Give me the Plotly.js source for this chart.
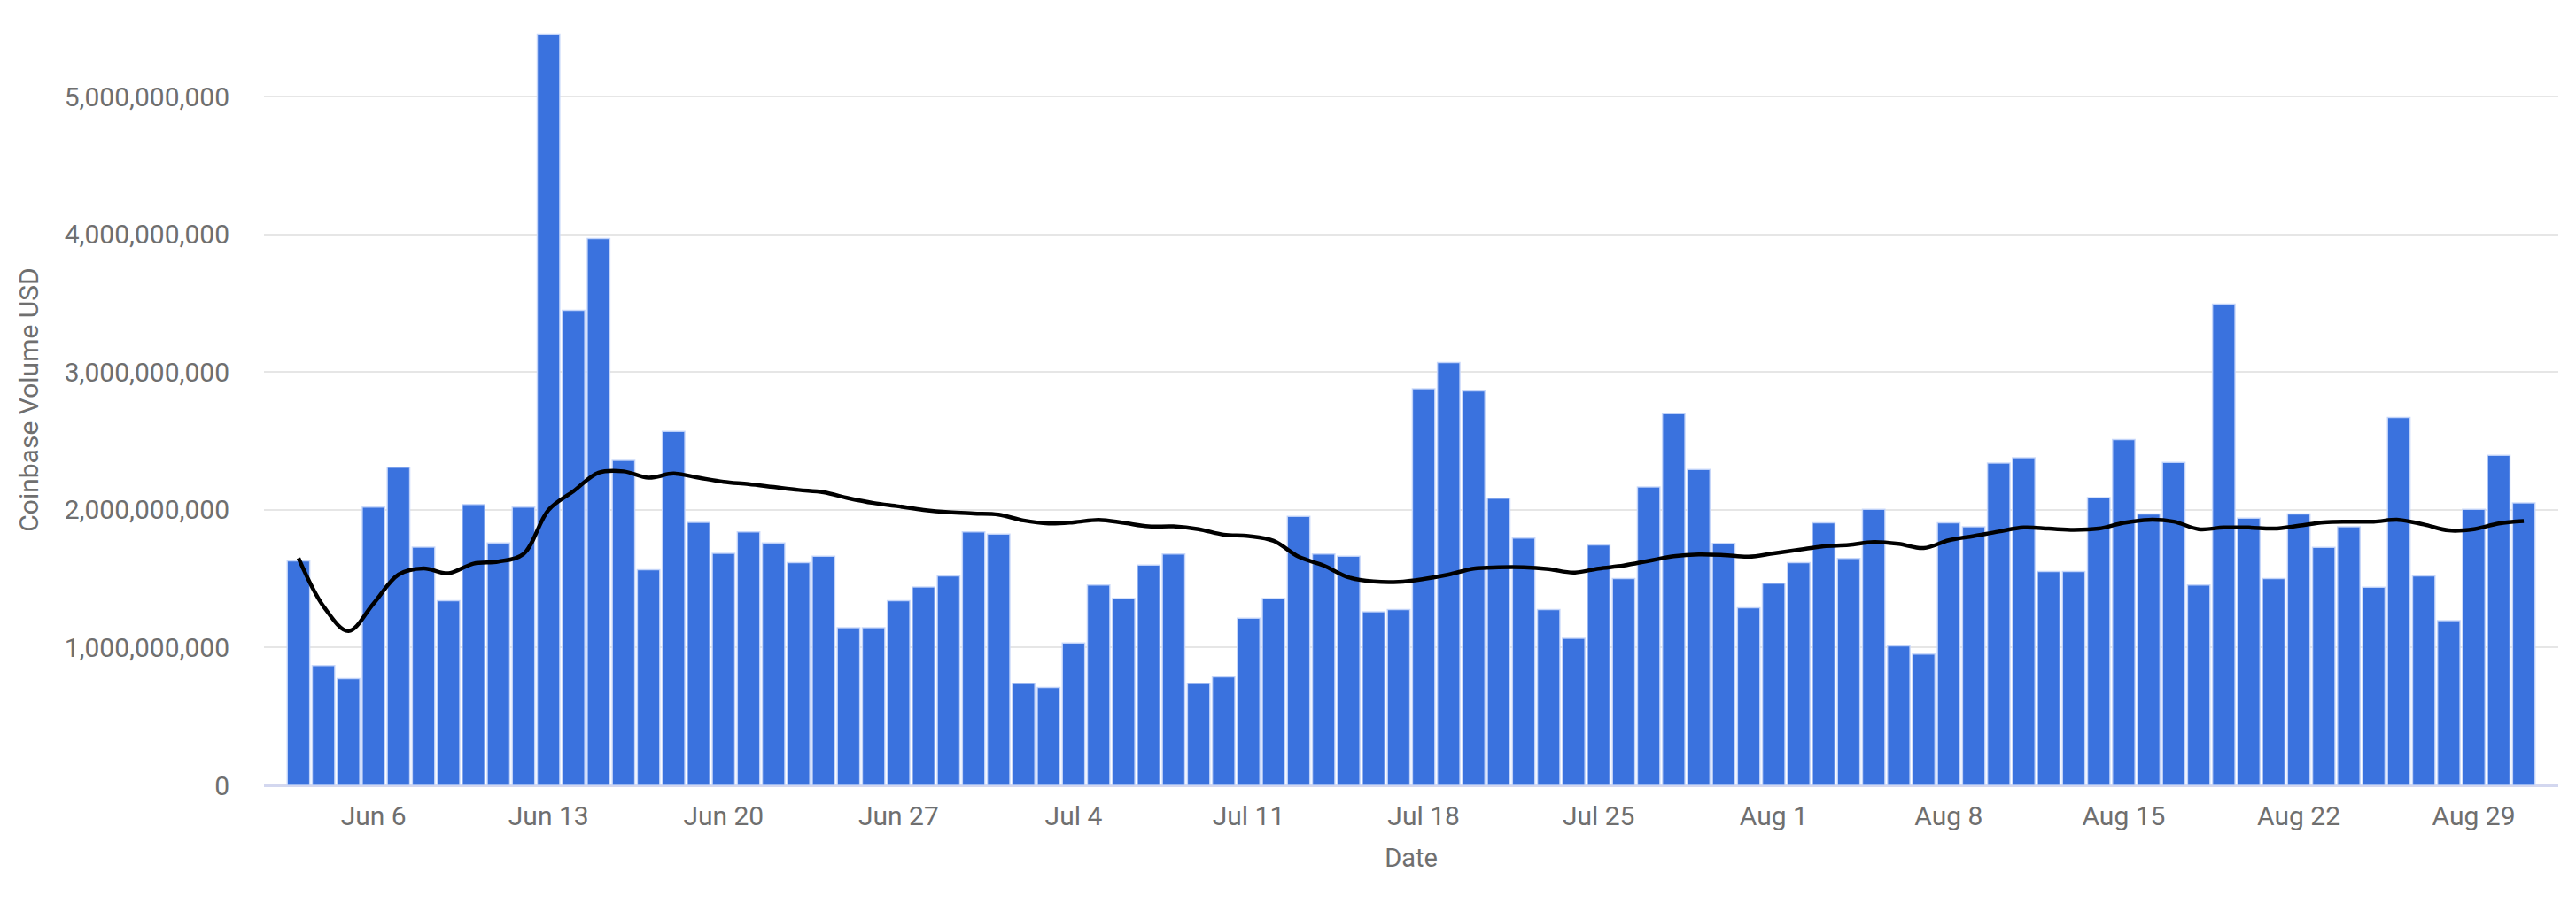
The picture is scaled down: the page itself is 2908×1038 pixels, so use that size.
<!DOCTYPE html>
<html>
<head>
<meta charset="utf-8">
<script src="https://cdn.plot.ly/plotly-3.0.1.min.js"></script>
<style>html,body{margin:0;padding:0;background:#fff;}#chart{width:2908px;height:1038px;}</style>
</head>
<body>
<div id="chart"></div>
<script>
const startDate = '2018-06-03';
const dayCount = 90;

const volumeBillions = [
  1.63, 0.87, 0.775, 2.02, 2.31, 1.73, 1.34, 2.04, 1.76, 2.02,
  5.455, 3.45, 3.97, 2.36, 1.566, 2.57, 1.91, 1.685, 1.84, 1.76,
  1.617, 1.664, 1.145, 1.145, 1.34, 1.44, 1.52, 1.84, 1.825, 0.74,
  0.71, 1.034, 1.455, 1.357, 1.60, 1.68, 0.74, 0.787, 1.213, 1.357,
  1.953, 1.68, 1.664, 1.26, 1.277, 2.88, 3.07, 2.864, 2.085, 1.796,
  1.277, 1.068, 1.745, 1.502, 2.166, 2.698, 2.294, 1.757, 1.289, 1.468,
  1.617, 1.906, 1.647, 2.004, 1.013, 0.953, 1.906, 1.877, 2.34, 2.379,
  1.553, 1.553, 2.089, 2.51, 1.97, 2.345, 1.455, 3.494, 1.94, 1.502,
  1.97, 1.728, 1.877, 1.438, 2.672, 1.52, 1.196, 2.004, 2.396, 2.051
];

const trendBillions = [
  1.65, 1.30, 1.12, 1.32, 1.53, 1.575, 1.54, 1.61, 1.625, 1.68,
  2.00, 2.136, 2.27, 2.28, 2.234, 2.264, 2.234, 2.204, 2.187, 2.166,
  2.145, 2.128, 2.085, 2.05, 2.026, 2.0, 1.983, 1.974, 1.966, 1.923,
  1.902, 1.91, 1.928, 1.906, 1.88, 1.88, 1.86, 1.82, 1.81, 1.775,
  1.66, 1.596, 1.51, 1.48, 1.477, 1.498, 1.53, 1.574, 1.583, 1.583,
  1.57, 1.545, 1.574, 1.596, 1.63, 1.664, 1.677, 1.672, 1.66, 1.685,
  1.71, 1.736, 1.745, 1.766, 1.753, 1.723, 1.779, 1.81, 1.843, 1.872,
  1.864, 1.855, 1.864, 1.906, 1.928, 1.915, 1.86, 1.872, 1.872, 1.864,
  1.885, 1.91, 1.915, 1.915, 1.928, 1.894, 1.851, 1.86, 1.902, 1.919
];

const tickDates = ['2018-06-06','2018-06-13','2018-06-20','2018-06-27','2018-07-04','2018-07-11','2018-07-18','2018-07-25','2018-08-01','2018-08-08','2018-08-15','2018-08-22','2018-08-29'];
const tickLabels = ['Jun 6','Jun 13','Jun 20','Jun 27','Jul 4','Jul 11','Jul 18','Jul 25','Aug 1','Aug 8','Aug 15','Aug 22','Aug 29'];
const yTickVals = [0, 1e9, 2e9, 3e9, 4e9, 5e9];
const yTickText = ['0','1,000,000,000','2,000,000,000','3,000,000,000','4,000,000,000','5,000,000,000'];

function dateStr(i){
  const d = new Date(Date.UTC(2018, 5, 3 + i));
  return d.toISOString().slice(0,10);
}
const dates = [];
for (let i = 0; i < dayCount; i++) dates.push(dateStr(i));
const volume = volumeBillions.map(v => v * 1e9);
const trend = trendBillions.map(v => v * 1e9);

const DAY = 86400000;
const x0 = Date.UTC(2018,5,3) - 1.38*DAY;
const x1 = Date.UTC(2018,7,31) + 1.38*DAY;
const FONT = 'Roboto, Arial, sans-serif';
const GREY = '#6f6f6f';

const data = [
  {
    type: 'bar', x: dates, y: volume,
    marker: {color: '#3A72DE', line: {color: 'rgba(200,215,250,0.9)', width: 1.5}},
    width: DAY*0.9,
    hoverinfo: 'x+y'
  },
  {
    type: 'scatter', mode: 'lines', x: dates, y: trend,
    line: {color: '#000000', width: 4.5, shape: 'spline', smoothing: 1},
    hoverinfo: 'x+y'
  }
];

const layout = {
  width: 2908, height: 1038,
  margin: {l: 298, r: 20, t: 16, b: 151},
  paper_bgcolor: '#ffffff', plot_bgcolor: '#ffffff',
  showlegend: false,
  bargap: 0,
  font: {family: FONT, color: GREY, size: 30},
  xaxis: {
    type: 'date',
    range: [x0, x1],
    tickmode: 'array', tickvals: tickDates, ticktext: tickLabels,
    showgrid: false, zeroline: false, showline: false,
    ticks: '', ticklabelstandoff: 14,
    tickfont: {family: FONT, size: 30, color: GREY},
    title: {text: 'Date', font: {family: FONT, size: 29, color: GREY}, standoff: 20}
  },
  yaxis: {
    range: [0, 5.6e9],
    tickmode: 'array', tickvals: yTickVals, ticktext: yTickText,
    showgrid: true, gridcolor: '#e6e6e6', gridwidth: 2,
    zeroline: true, zerolinecolor: '#d3d7ef', zerolinewidth: 3,
    showline: false, ticks: '', ticklabelstandoff: 38,
    tickfont: {family: FONT, size: 30, color: GREY},
    title: {text: 'Coinbase Volume USD', font: {family: FONT, size: 30, color: GREY}, standoff: 20}
  }
};

Plotly.newPlot('chart', data, layout, {displayModeBar: false, staticPlot: true});
</script>
</body>
</html>
